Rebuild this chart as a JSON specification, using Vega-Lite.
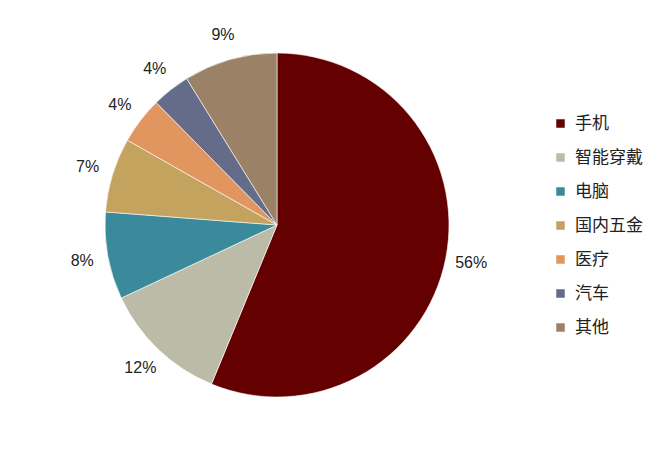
{
  "$schema": "https://vega.github.io/schema/vega-lite/v6.json",
  "autosize": {"type": "none"},
  "padding": {"left": 0, "top": 0, "right": 117, "bottom": 1},
  "width": 554,
  "height": 450,
  "background": "white",
  "data": {"values": [
    {"name": "手机", "value": 56.25, "label": "56%", "idx": 1},
    {"name": "智能穿戴", "value": 11.8, "label": "12%", "idx": 2},
    {"name": "电脑", "value": 8.2, "label": "8%", "idx": 3},
    {"name": "国内五金", "value": 7.0, "label": "7%", "idx": 4},
    {"name": "医疗", "value": 4.4, "label": "4%", "idx": 5},
    {"name": "汽车", "value": 3.6, "label": "4%", "idx": 6},
    {"name": "其他", "value": 8.8, "label": "9%", "idx": 7}
  ]},
  "encoding": {
    "theta": {"field": "value", "type": "quantitative", "stack": true},
    "order": {"field": "idx", "type": "quantitative"}
  },
  "layer": [
    {
      "mark": {"type": "arc", "outerRadius": 172, "stroke": "white", "strokeWidth": 0.6},
      "encoding": {
        "color": {
          "field": "name", "type": "nominal",
          "scale": {
            "domain": ["手机", "智能穿戴", "电脑", "国内五金", "医疗", "汽车", "其他"],
            "range": ["#650000", "#BBBBA8", "#3B8A9C", "#C4A35F", "#E1965F", "#646C8A", "#9B8267"]
          },
          "legend": {
            "title": null,
            "orient": "none",
            "legendX": 552,
            "legendY": 115,
            "symbolType": "square",
            "symbolSize": 72,
            "symbolStrokeWidth": 0,
            "labelFontSize": 17,
            "labelFont": "Noto Sans CJK SC",
            "labelColor": "#222222",
            "rowPadding": 16,
            "labelOffset": 6
          }
        }
      }
    },
    {
      "mark": {"type": "text", "radius": 198, "fontSize": 16, "font": "Liberation Sans", "fill": "#222222"},
      "encoding": {"text": {"field": "label", "type": "nominal"}}
    }
  ]
}
